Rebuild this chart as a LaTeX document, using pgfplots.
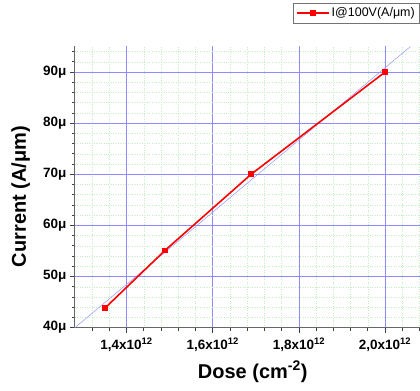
\documentclass[border=0pt]{standalone}
\usepackage{fontspec}
\setmainfont{Liberation Sans}
\usepackage{pgfplots}
\pgfplotsset{compat=1.18}
\definecolor{majgrid}{RGB}{140,140,255}
\definecolor{mingrid}{RGB}{195,240,195}
\definecolor{diag}{RGB}{150,150,255}
\begin{document}
\begin{tikzpicture}
\begin{axis}[name=ax, scale only axis, width=345pt, height=282pt,
 xmin=1.28, xmax=2.08, ymin=40, ymax=95.1,
 axis lines=left, axis line style={-, draw=black!60, line width=0.9pt},
 xtick={1.4,1.6,1.8,2.0},
 xticklabels={{1,4x10\textsuperscript{12}},{1,6x10\textsuperscript{12}},{1,8x10\textsuperscript{12}},{2,0x10\textsuperscript{12}}},
 ytick={40,50,60,70,80,90},
 yticklabels={40μ,50μ,60μ,70μ,80μ,90μ},
 minor xtick={1.32,1.36,1.44,1.48,1.52,1.56,1.64,1.68,1.72,1.76,1.84,1.88,1.92,1.96,2.04,2.08},
 minor ytick={42,44,46,48,52,54,56,58,62,64,66,68,72,74,76,78,82,84,86,88,92,94},
 tick align=outside, major tick length=5pt, minor tick length=3pt,
 tick style={black!75, line width=0.8pt},
 grid=both,
 major grid style={majgrid, line width=0.6pt},
 minor grid style={mingrid, dotted, line width=0.5pt},
 ticklabel style={font=\bfseries\fontsize{13.5}{13.5}\selectfont},
 xticklabel style={yshift=-2pt},
 yticklabel style={xshift=0pt},
 xlabel={\textbf{Dose (cm\textsuperscript{-2})}},
 xlabel style={font=\fontsize{20}{20}\selectfont, at={(axis description cs:0.516,-0.156)}, anchor=center},
 ylabel={\textbf{Current (A/μm)}},
 ylabel style={font=\fontsize{20}{20}\selectfont, at={(axis description cs:-0.157,0.465)}, anchor=center, rotate=0},
 legend style={at={(axis description cs:1,1.1525)}, anchor=north east, draw=black!55, line width=0.6pt, font=\fontsize{12.5}{12.5}\selectfont, inner sep=2.5pt, row sep=1pt},
 legend cell align=left,
 legend image code/.code={\draw[mark repeat=2,mark phase=2,#1] plot coordinates {(0pt,0pt) (16pt,0pt) (32pt,0pt)};},
]
\addplot[diag, line width=0.5pt, forget plot] coordinates {(1.28,40) (2.059,95)};
\addplot[red, line width=1.6pt, mark=square*, mark size=2pt, mark options={solid}] coordinates {
(1.35,43.85) (1.489,55.1) (1.689,70.0) (2.0,90.0)};
\addlegendentry{I@100V(A/μm)}
\node[rotate=90, font=\fontsize{9}{9}\selectfont, anchor=center] at (axis description cs:-0.130,0.872) {@100V};
\end{axis}
\path[use as bounding box] ([xshift=-75pt,yshift=-63pt]ax.south west) rectangle ([yshift=46pt]ax.north east);
\end{tikzpicture}
\end{document}
